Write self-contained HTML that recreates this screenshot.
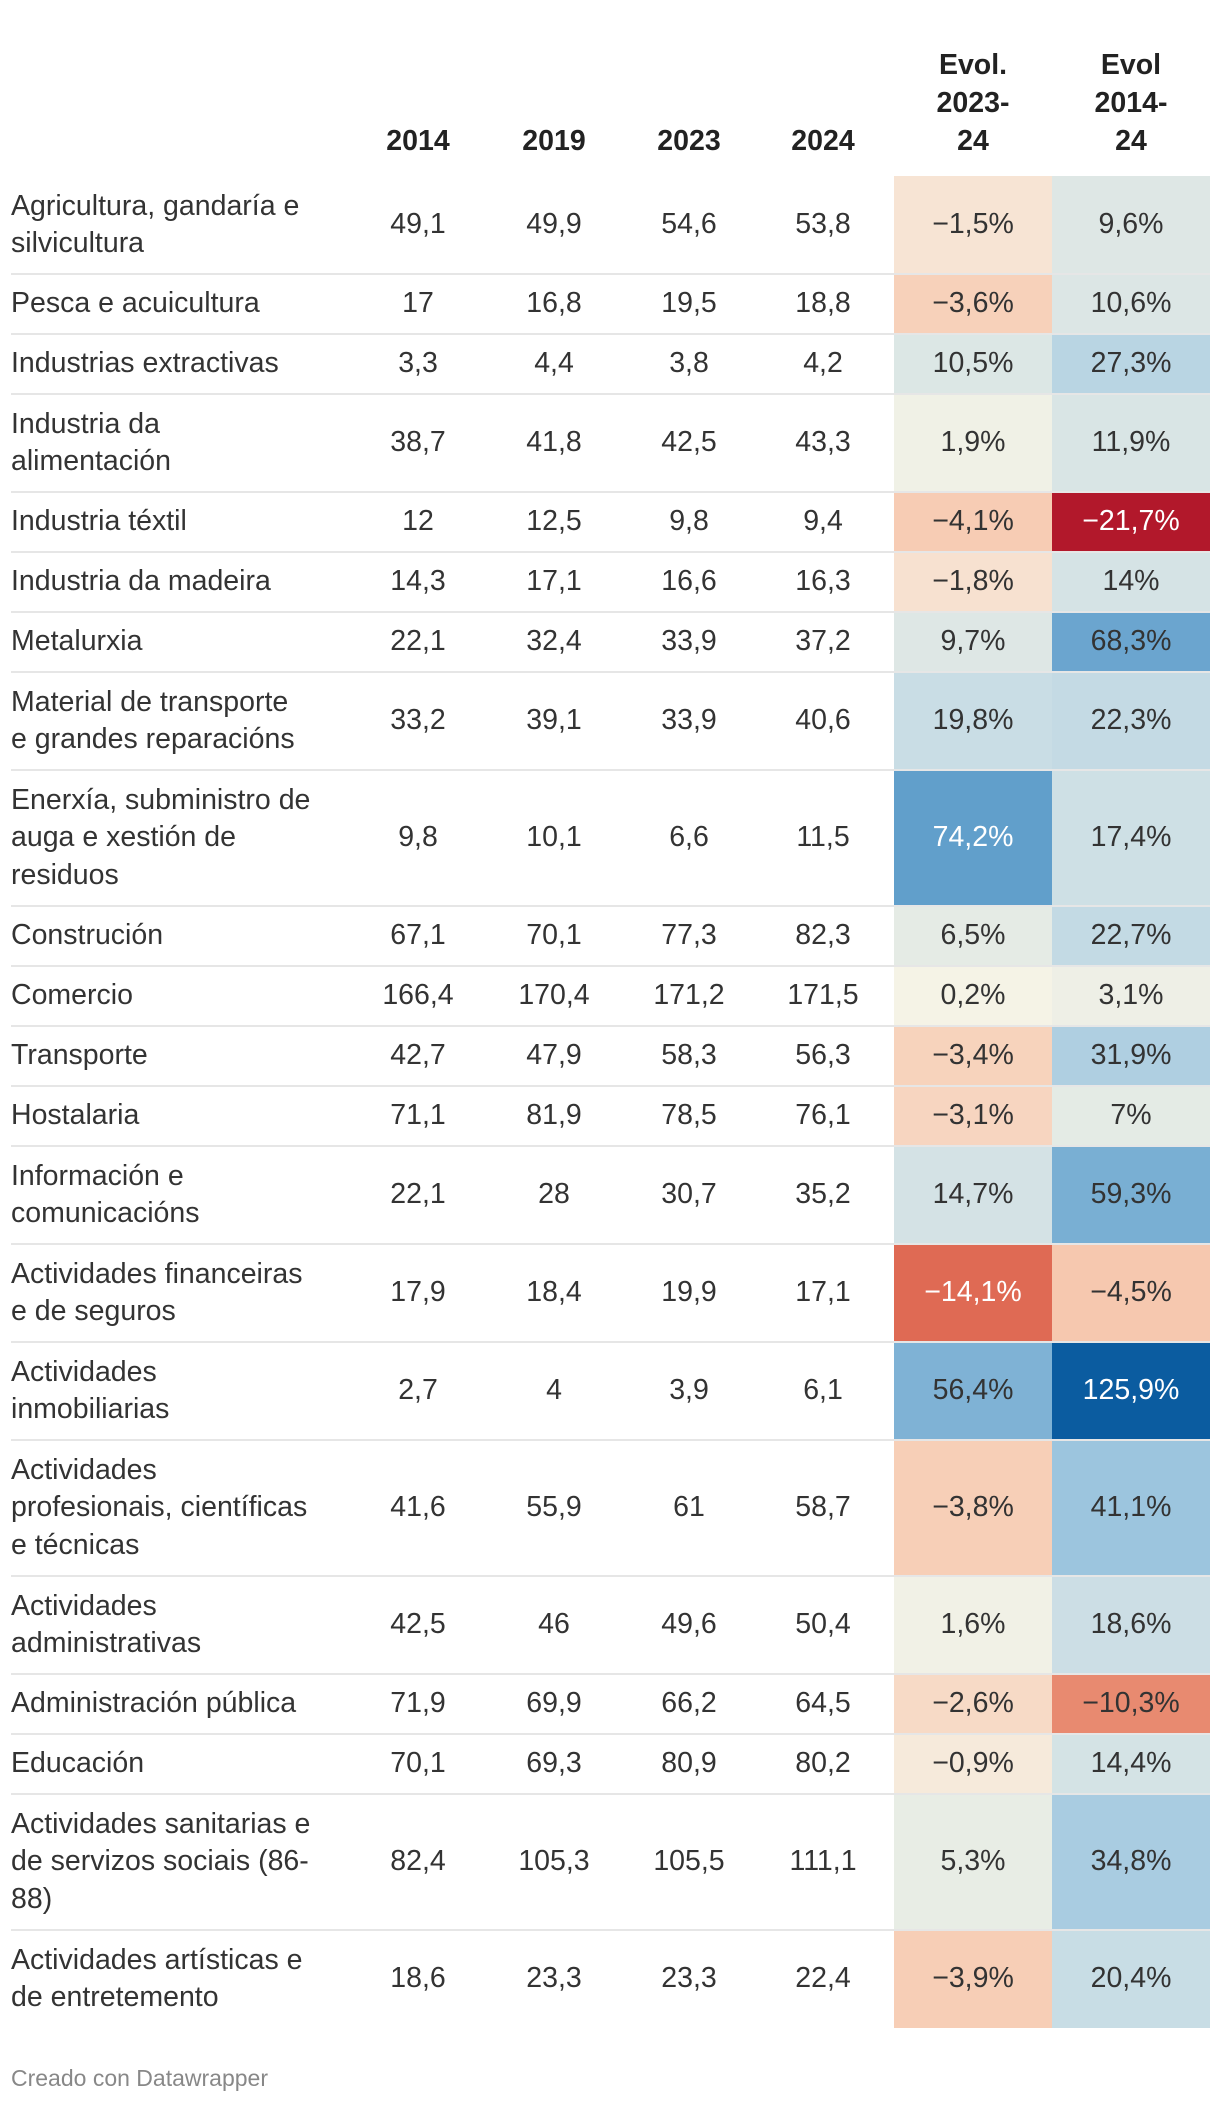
<!DOCTYPE html>
<html><head><meta charset="utf-8">
<style>
html,body{margin:0;padding:0;background:#fff;}
body{width:1220px;height:2106px;position:relative;overflow:hidden;font-family:"Liberation Sans",sans-serif;color:#333;}
.t{position:absolute;font-size:28.5px;white-space:nowrap;line-height:37.5px;}
.h{position:absolute;font-size:28.5px;font-weight:bold;text-align:center;line-height:38px;color:#222;}
.c{position:absolute;}
.line{position:absolute;height:2px;background:#e6e6e6;left:11px;width:1199px;}
</style></head><body>
<div id="tbl"></div>
<div class="t" style="left:11px;top:2060px;font-size:23px;color:#888;">Creado con Datawrapper</div>
<script>
const labels=[["Agricultura, gandaría e","silvicultura"],["Pesca e acuicultura"],["Industrias extractivas"],["Industria da","alimentación"],["Industria téxtil"],["Industria da madeira"],["Metalurxia"],["Material de transporte","e grandes reparacións"],["Enerxía, subministro de","auga e xestión de","residuos"],["Construción"],["Comercio"],["Transporte"],["Hostalaria"],["Información e","comunicacións"],["Actividades financeiras","e de seguros"],["Actividades","inmobiliarias"],["Actividades","profesionais, científicas","e técnicas"],["Actividades","administrativas"],["Administración pública"],["Educación"],["Actividades sanitarias e","de servizos sociais (86-","88)"],["Actividades artísticas e","de entretemento"]];
const v2014=["49,1","17","3,3","38,7","12","14,3","22,1","33,2","9,8","67,1","166,4","42,7","71,1","22,1","17,9","2,7","41,6","42,5","71,9","70,1","82,4","18,6"];
const v2019=["49,9","16,8","4,4","41,8","12,5","17,1","32,4","39,1","10,1","70,1","170,4","47,9","81,9","28","18,4","4","55,9","46","69,9","69,3","105,3","23,3"];
const v2023=["54,6","19,5","3,8","42,5","9,8","16,6","33,9","33,9","6,6","77,3","171,2","58,3","78,5","30,7","19,9","3,9","61","49,6","66,2","80,9","105,5","23,3"];
const v2024=["53,8","18,8","4,2","43,3","9,4","16,3","37,2","40,6","11,5","82,3","171,5","56,3","76,1","35,2","17,1","6,1","58,7","50,4","64,5","80,2","111,1","22,4"];
const evol1=[-1.5,-3.6,10.5,1.9,-4.1,-1.8,9.7,19.8,74.2,6.5,0.2,-3.4,-3.1,14.7,-14.1,56.4,-3.8,1.6,-2.6,-0.9,5.3,-3.9];
const evol2=[9.6,10.6,27.3,11.9,-21.7,14,68.3,22.3,17.4,22.7,3.1,31.9,7,59.3,-4.5,125.9,41.1,18.6,-10.3,14.4,34.8,20.4];
const headers=["2014","2019","2023","2024"];

const stops=[[-21.7,[178,24,43]],[-14,[224,107,85]],[-10,[233,141,114]],[-4,[247,205,181]],[-1.5,[247,228,212]],[0,[245,243,230]],[10,[221,231,229]],[20,[201,221,229]],[40,[158,198,223]],[60,[120,174,211]],[75,[96,158,203]],[126,[11,92,160]]];
function col(v){
  if(v<=stops[0][0])return stops[0][1];
  for(let i=1;i<stops.length;i++){if(v<=stops[i][0]){const a=stops[i-1],b=stops[i];const t=(v-a[0])/(b[0]-a[0]);return a[1].map((x,k)=>Math.round(x+(b[1][k]-x)*t));}}
  return stops[stops.length-1][1];
}
function fmt(v){return (v<0?"\u2212":"")+String(Math.abs(v)).replace(".",",")+"%";}
const colX=[418,554,689,823];
const ev=[[894,1052],[1052,1210]];
const rowH=[60,98,136];
const tbl=document.getElementById('tbl');
function add(cls,style,text,name){const d=document.createElement('div');d.className=cls;d.style.cssText=style;if(text!==null)d.innerHTML=text;


tbl.appendChild(d);return d;}
headers.forEach((h,i)=>{add('h',`left:${colX[i]-70}px;width:140px;top:122px;`,h,'column-header-'+h);});
add('h',`left:${ev[0][0]}px;width:158px;top:46px;`,'Evol.<br>2023-<br>24','column-header-evol-2023-24');
add('h',`left:${ev[1][0]}px;width:158px;top:46px;`,'Evol<br>2014-<br>24','column-header-evol-2014-24');
let y=176;
labels.forEach((lab,i)=>{
  const h=rowH[lab.length-1];
  const mid=y+h/2;
  [evol1[i],evol2[i]].forEach((v,k)=>{
    const c=col(v);const lum=0.299*c[0]+0.587*c[1]+0.114*c[2];
    const d=add('c',`left:${ev[k][0]}px;width:${ev[k][1]-ev[k][0]}px;top:${y}px;height:${h}px;background:rgb(${c.join(',')});`,null,k?'evol-2014-24-cell':'evol-2023-24-cell');
    add('t',`left:${ev[k][0]}px;width:${ev[k][1]-ev[k][0]}px;text-align:center;top:${mid-19}px;color:${lum<150?'#fff':'#333'};`,fmt(v),'evol-value');
  });
  if(i>0)add('line',`top:${y-1}px;`,null,'row-divider');
  add('t',`left:11px;top:${mid-lab.length*37.5/2}px;`,lab.join('<br>'),'row-label');
  [v2014,v2019,v2023,v2024].forEach((arr,k)=>{
    add('t',`left:${colX[k]-70}px;width:140px;text-align:center;top:${mid-19}px;`,arr[i],'value-'+headers[k]);
  });
  y+=h;
});
</script>
</body></html>
